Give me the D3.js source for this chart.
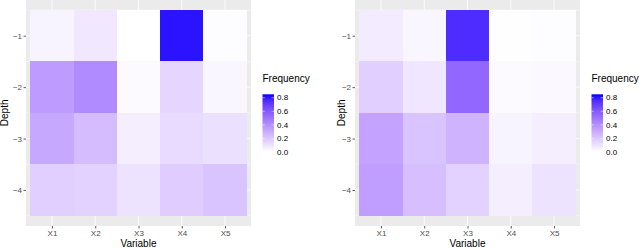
<!DOCTYPE html>
<html>
<head>
<meta charset="utf-8">
<script src="https://cdn.jsdelivr.net/npm/d3@7"></script>
<style>
  html, body { margin: 0; padding: 0; background: #ffffff; }
  svg { display: block; font-family: "Liberation Sans", Arial, Helvetica, sans-serif; }
</style>
</head>
<body>
<svg id="chart" width="640" height="248"></svg>
<script>
// ---- data ----
const variables = ["X1", "X2", "X3", "X4", "X5"];
const depths = [-1, -2, -3, -4];
// rows follow depths, columns follow variables
const leftValues = [
  [0.04, 0.08, 0.00, 0.82, 0.01],
  [0.36, 0.42, 0.02, 0.15, 0.03],
  [0.31, 0.24, 0.06, 0.13, 0.11],
  [0.17, 0.16, 0.10, 0.18, 0.21]
];
const rightValues = [
  [0.07, 0.03, 0.76, 0.005, 0.01],
  [0.17, 0.09, 0.55, 0.02, 0.025],
  [0.33, 0.21, 0.27, 0.04, 0.06],
  [0.35, 0.23, 0.16, 0.06, 0.10]
];
const legendTicks = [0.0, 0.2, 0.4, 0.6, 0.8];
const fillDomain = [0, 0.85];
const xTitle = "Variable";
const yTitle = "Depth";
const legendTitle = "Frequency";

// ---- drawing ----
const svg = d3.select("#chart");
const color = d3.scaleLinear().domain(fillDomain).range(["#ffffff", "#0000ff"])
  .interpolate(d3.interpolateLab).clamp(true);

function drawPanel(ox, values, gid) {
  const g = svg.append("g").attr("transform", `translate(${ox},0)`);
  const x = d3.scaleLinear().domain([0.4, 5.6]).range([26, 251]);
  const y = d3.scaleLinear().domain([-4.7, -0.3]).range([226, -0.3]);

  // panel background
  g.append("rect").attr("x", x(0.4)).attr("y", y(-0.3))
    .attr("width", x(5.6) - x(0.4)).attr("height", y(-4.7) - y(-0.3))
    .attr("fill", "#ebebeb");

  // minor grid
  const minorY = [-4.5, -3.5, -2.5, -1.5, -0.5];
  g.selectAll(".minor").data(minorY).join("line")
    .attr("x1", x(0.4)).attr("x2", x(5.6))
    .attr("y1", d => y(d)).attr("y2", d => y(d))
    .attr("stroke", "#ffffff").attr("stroke-width", 0.4);
  // major grid
  g.selectAll(".majy").data(depths).join("line")
    .attr("x1", x(0.4)).attr("x2", x(5.6))
    .attr("y1", d => y(d)).attr("y2", d => y(d))
    .attr("stroke", "#ffffff").attr("stroke-width", 0.8);
  g.selectAll(".majx").data(variables).join("line")
    .attr("x1", (d, i) => x(i + 1)).attr("x2", (d, i) => x(i + 1))
    .attr("y1", y(-0.3)).attr("y2", y(-4.7))
    .attr("stroke", "#ffffff").attr("stroke-width", 0.8);

  // tiles
  const cells = [];
  depths.forEach((dp, r) => variables.forEach((v, c) => cells.push({ c, dp, val: values[r][c] })));
  g.selectAll(".tile").data(cells).join("rect")
    .attr("x", d => x(d.c + 0.5)).attr("y", d => y(d.dp + 0.5))
    .attr("width", d => x(d.c + 1.5) - x(d.c + 0.5))
    .attr("height", d => y(d.dp - 0.5) - y(d.dp + 0.5))
    .attr("fill", d => color(d.val))
    .attr("shape-rendering", "crispEdges");

  // axes
  const xAxis = d3.axisBottom(x)
    .tickValues([1, 2, 3, 4, 5]).tickFormat(d => variables[d - 1])
    .tickSize(2.5).tickPadding(1.5);
  const xa = g.append("g").attr("transform", `translate(0,${y(-4.7)})`).call(xAxis);
  const yAxis = d3.axisLeft(y).tickValues(depths).tickFormat(d3.format("d"))
    .tickSize(2.5).tickPadding(1.5);
  const ya = g.append("g").attr("transform", `translate(${x(0.4)},0)`).call(yAxis);
  [xa, ya].forEach(a => {
    a.select(".domain").remove();
    a.selectAll(".tick line").attr("stroke", "#333333").attr("stroke-width", 0.8);
    a.selectAll(".tick text").attr("fill", "#4d4d4d").style("font-size", "8px")
      .style("font-family", "'Liberation Sans', Arial, sans-serif");
  });

  // axis titles
  g.append("text").attr("x", (x(0.4) + x(5.6)) / 2).attr("y", 246.5)
    .attr("text-anchor", "middle").style("font-size", "10px").attr("fill", "#000")
    .text(xTitle);
  g.append("text")
    .attr("transform", `translate(${ox === 0 ? 7.5 : 15.5},${(y(-0.3) + y(-4.7)) / 2}) rotate(-90)`)
    .attr("text-anchor", "middle").style("font-size", "10px").attr("fill", "#000")
    .text(yTitle);

  // legend
  const lx = 262.5;
  const leg = g.append("g");
  leg.append("text").attr("x", lx).attr("y", 81.5).style("font-size", "10px")
    .attr("fill", "#000").text(legendTitle);
  const ls = d3.scaleLinear().domain(fillDomain).range([152, 94.3]);
  const grad = svg.append("defs").append("linearGradient").attr("id", gid)
    .attr("x1", 0).attr("y1", 1).attr("x2", 0).attr("y2", 0);
  d3.range(0, 1.0001, 0.1).forEach(t => {
    grad.append("stop").attr("offset", t)
      .attr("stop-color", color(fillDomain[0] + t * (fillDomain[1] - fillDomain[0])));
  });
  leg.append("rect").attr("x", lx).attr("y", ls(fillDomain[1]))
    .attr("width", 11.5).attr("height", ls(fillDomain[0]) - ls(fillDomain[1]))
    .attr("fill", `url(#${gid})`);
  leg.selectAll(".lt").data(legendTicks).join("g").each(function (d) {
    const s = d3.select(this);
    s.append("line").attr("x1", lx).attr("x2", lx + 2.3).attr("y1", ls(d)).attr("y2", ls(d))
      .attr("stroke", "#fff").attr("stroke-width", 0.5);
    s.append("line").attr("x1", lx + 9.2).attr("x2", lx + 11.5).attr("y1", ls(d)).attr("y2", ls(d))
      .attr("stroke", "#fff").attr("stroke-width", 0.5);
    s.append("text").attr("x", lx + 14.5).attr("y", ls(d)).attr("dy", "0.35em")
      .style("font-size", "8px").attr("fill", "#000").text(d.toFixed(1));
  });
}

drawPanel(0, leftValues, "gradL");
drawPanel(329, rightValues, "gradR");
</script>
</body>
</html>
